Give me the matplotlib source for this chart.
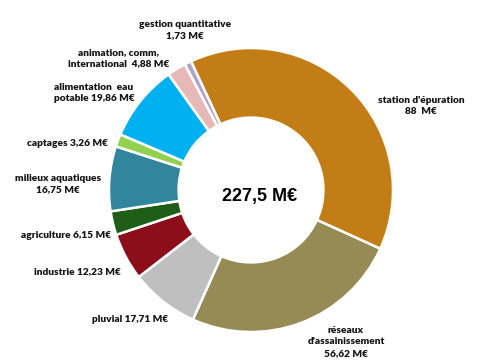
import matplotlib
matplotlib.use("Agg")
import matplotlib.pyplot as plt

# montants par poste (M€), dans l'ordre du camembert (sens horaire)
postes = ["station d'épuration", "réseaux d'assainissement", "pluvial", "industrie",
          "agriculture", "milieux aquatiques", "captages", "alimentation eau potable",
          "animation, comm, international", "gestion quantitative"]
montants = [88, 56.62, 17.71, 12.23, 6.15, 16.75, 3.26, 19.86, 4.88, 1.73]
couleurs = ["#C37D17", "#978B55", "#BFBFBF", "#8C0E1B", "#1F5E16",
            "#31859C", "#92D050", "#00B0F0", "#E6B9B8", "#B3A2C7"]
etiquettes = ["station d'épuration\n88  M€", "réseaux\nd'assainissement\n56,62 M€",
              "pluvial 17,71 M€", "industrie 12,23 M€", "agriculture 6,15 M€",
              "milieux aquatiques\n16,75 M€", "captages 3,26 M€",
              "alimentation  eau\npotable 19,86 M€", "animation, comm,\ninternational  4,88 M€",
              "gestion quantitative\n1,73 M€"]
# positions des étiquettes (pixels, origine en haut à gauche)
pos_etiq = [(421, 106), (346, 342), (130, 320), (77, 272), (66, 235),
            (58, 184), (68, 143), (94, 93), (119, 58), (185, 30)]
total = "227,5 M€"

W, H = 501, 364
fig = plt.figure(figsize=(W / 100, H / 100), dpi=100)
ax = fig.add_axes([0, 0, 1, 1])

cx, cy, R = 251, H - 190, 142
ax.pie(montants, colors=couleurs, startangle=115, counterclock=False,
       radius=R, center=(cx, cy), frame=True,
       wedgeprops=dict(width=R * 0.49, edgecolor="white", linewidth=1.8))
ax.set_xlim(0, W)
ax.set_ylim(0, H)
ax.set_aspect("equal")
ax.axis("off")

for txt, (x, y) in zip(etiquettes, pos_etiq):
    ax.text(x, H - y, txt, ha="center", va="center", fontsize=7.3,
            fontweight="heavy", family="Lato", color="#151515", linespacing=1.3)

ax.text(260, H - 196, total, ha="center", va="center", fontsize=13,
        fontweight="bold", family="Liberation Sans", color="black")

fig.savefig("out.png", dpi=100)
